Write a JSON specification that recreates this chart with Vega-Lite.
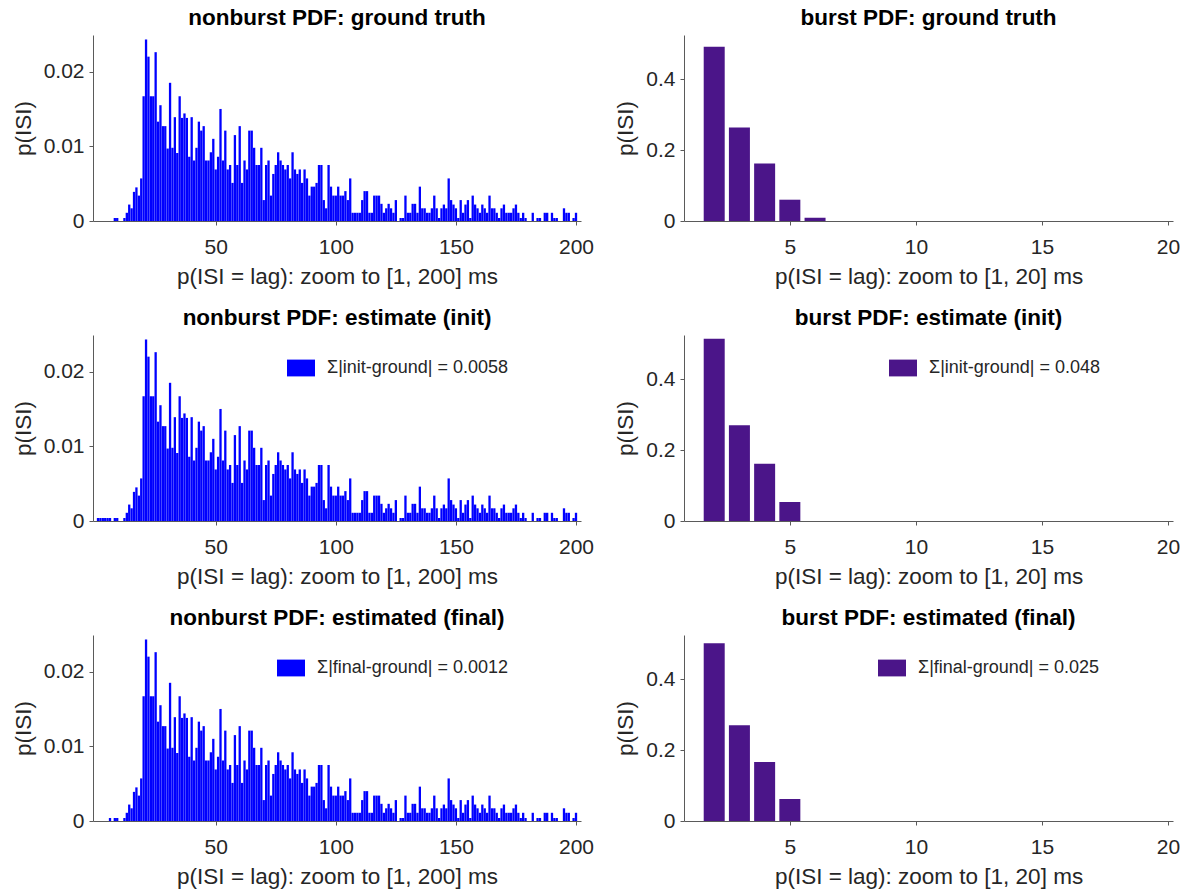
{
"$schema": "https://vega.github.io/schema/vega-lite/v6.json",
"background": "white",
"padding": {"left": 12, "top": 6, "right": 2, "bottom": 2},
"datasets": {
"nb": [
{"lag":1,"gt":0,"init":0.0004,"fin":0},{"lag":2,"gt":0,"init":0.0004,"fin":0},{"lag":3,"gt":0,"init":0.0004,"fin":0},{"lag":4,"gt":0,"init":0.0004,"fin":0},{"lag":5,"gt":0,"init":0.0004,"fin":0},{"lag":6,"gt":0,"init":0.0004,"fin":0.0004},{"lag":7,"gt":0,"init":0,"fin":0},{"lag":8,"gt":0.0004,"init":0.0004,"fin":0.0004},{"lag":9,"gt":0.0004,"init":0.0004,"fin":0.0004},{"lag":10,"gt":0,"init":0,"fin":0},
{"lag":11,"gt":0,"init":0,"fin":0},{"lag":12,"gt":0.0004,"init":0.0004,"fin":0.0004},{"lag":13,"gt":0.0011,"init":0.0011,"fin":0.0011},{"lag":14,"gt":0.0022,"init":0.0022,"fin":0.0022},{"lag":15,"gt":0.0017,"init":0.0017,"fin":0.0017},{"lag":16,"gt":0.0039,"init":0.0039,"fin":0.0039},{"lag":17,"gt":0.0045,"init":0.0045,"fin":0.0045},{"lag":18,"gt":0.0034,"init":0.0034,"fin":0.0034},{"lag":19,"gt":0.0057,"init":0.0057,"fin":0.0057},{"lag":20,"gt":0.0167,"init":0.0167,"fin":0.0167},
{"lag":21,"gt":0.0243,"init":0.0243,"fin":0.0243},{"lag":22,"gt":0.022,"init":0.022,"fin":0.022},{"lag":23,"gt":0.0167,"init":0.0167,"fin":0.0167},{"lag":24,"gt":0.0167,"init":0.0167,"fin":0.0167},{"lag":25,"gt":0.0226,"init":0.0226,"fin":0.0226},{"lag":26,"gt":0.0133,"init":0.0133,"fin":0.0133},{"lag":27,"gt":0.0155,"init":0.0155,"fin":0.0155},{"lag":28,"gt":0.0127,"init":0.0127,"fin":0.0127},{"lag":29,"gt":0.0127,"init":0.0127,"fin":0.0127},{"lag":30,"gt":0.0097,"init":0.0097,"fin":0.0097},
{"lag":31,"gt":0.0185,"init":0.0185,"fin":0.0185},{"lag":32,"gt":0.0098,"init":0.0098,"fin":0.0098},{"lag":33,"gt":0.0139,"init":0.0139,"fin":0.0139},{"lag":34,"gt":0.0091,"init":0.0091,"fin":0.0091},{"lag":35,"gt":0.0167,"init":0.0167,"fin":0.0167},{"lag":36,"gt":0.0138,"init":0.0138,"fin":0.0138},{"lag":37,"gt":0.0144,"init":0.0144,"fin":0.0144},{"lag":38,"gt":0.0138,"init":0.0138,"fin":0.0138},{"lag":39,"gt":0.0086,"init":0.0086,"fin":0.0086},{"lag":40,"gt":0.0139,"init":0.0139,"fin":0.0139},
{"lag":41,"gt":0.0081,"init":0.0081,"fin":0.0081},{"lag":42,"gt":0.0098,"init":0.0098,"fin":0.0098},{"lag":43,"gt":0.0133,"init":0.0133,"fin":0.0133},{"lag":44,"gt":0.0121,"init":0.0121,"fin":0.0121},{"lag":45,"gt":0.0127,"init":0.0127,"fin":0.0127},{"lag":46,"gt":0.0081,"init":0.0081,"fin":0.0081},{"lag":47,"gt":0.0081,"init":0.0081,"fin":0.0081},{"lag":48,"gt":0.0092,"init":0.0092,"fin":0.0092},{"lag":49,"gt":0.011,"init":0.011,"fin":0.011},{"lag":50,"gt":0.0069,"init":0.0069,"fin":0.0069},
{"lag":51,"gt":0.0086,"init":0.0086,"fin":0.0086},{"lag":52,"gt":0.015,"init":0.015,"fin":0.015},{"lag":53,"gt":0.0081,"init":0.0081,"fin":0.0081},{"lag":54,"gt":0.0121,"init":0.0121,"fin":0.0121},{"lag":55,"gt":0.0069,"init":0.0069,"fin":0.0069},{"lag":56,"gt":0.0075,"init":0.0075,"fin":0.0075},{"lag":57,"gt":0.0051,"init":0.0051,"fin":0.0051},{"lag":58,"gt":0.0115,"init":0.0115,"fin":0.0115},{"lag":59,"gt":0.0075,"init":0.0075,"fin":0.0075},{"lag":60,"gt":0.0127,"init":0.0127,"fin":0.0127},
{"lag":61,"gt":0.0051,"init":0.0051,"fin":0.0051},{"lag":62,"gt":0.0081,"init":0.0081,"fin":0.0081},{"lag":63,"gt":0.0069,"init":0.0069,"fin":0.0069},{"lag":64,"gt":0.0121,"init":0.0121,"fin":0.0121},{"lag":65,"gt":0.0121,"init":0.0121,"fin":0.0121},{"lag":66,"gt":0.0098,"init":0.0098,"fin":0.0098},{"lag":67,"gt":0.0075,"init":0.0075,"fin":0.0075},{"lag":68,"gt":0.0075,"init":0.0075,"fin":0.0075},{"lag":69,"gt":0.0098,"init":0.0098,"fin":0.0098},{"lag":70,"gt":0.0028,"init":0.0028,"fin":0.0028},
{"lag":71,"gt":0.0075,"init":0.0075,"fin":0.0075},{"lag":72,"gt":0.0081,"init":0.0081,"fin":0.0081},{"lag":73,"gt":0.0034,"init":0.0034,"fin":0.0034},{"lag":74,"gt":0.0063,"init":0.0063,"fin":0.0063},{"lag":75,"gt":0.0075,"init":0.0075,"fin":0.0075},{"lag":76,"gt":0.0092,"init":0.0092,"fin":0.0092},{"lag":77,"gt":0.0081,"init":0.0081,"fin":0.0081},{"lag":78,"gt":0.0075,"init":0.0075,"fin":0.0075},{"lag":79,"gt":0.0069,"init":0.0069,"fin":0.0069},{"lag":80,"gt":0.0075,"init":0.0075,"fin":0.0075},
{"lag":81,"gt":0.0057,"init":0.0057,"fin":0.0057},{"lag":82,"gt":0.0092,"init":0.0092,"fin":0.0092},{"lag":83,"gt":0.0069,"init":0.0069,"fin":0.0069},{"lag":84,"gt":0.0063,"init":0.0063,"fin":0.0063},{"lag":85,"gt":0.0069,"init":0.0069,"fin":0.0069},{"lag":86,"gt":0.0051,"init":0.0051,"fin":0.0051},{"lag":87,"gt":0.0069,"init":0.0069,"fin":0.0069},{"lag":88,"gt":0.0057,"init":0.0057,"fin":0.0057},{"lag":89,"gt":0.0034,"init":0.0034,"fin":0.0034},{"lag":90,"gt":0.0046,"init":0.0046,"fin":0.0046},
{"lag":91,"gt":0.0046,"init":0.0046,"fin":0.0046},{"lag":92,"gt":0.0051,"init":0.0051,"fin":0.0051},{"lag":93,"gt":0.0075,"init":0.0075,"fin":0.0075},{"lag":94,"gt":0.0075,"init":0.0075,"fin":0.0075},{"lag":95,"gt":0.0028,"init":0.0028,"fin":0.0028},{"lag":96,"gt":0.0017,"init":0.0017,"fin":0.0017},{"lag":97,"gt":0.0075,"init":0.0075,"fin":0.0075},{"lag":98,"gt":0.0046,"init":0.0046,"fin":0.0046},{"lag":99,"gt":0.0034,"init":0.0034,"fin":0.0034},{"lag":100,"gt":0.0034,"init":0.0034,"fin":0.0034},
{"lag":101,"gt":0.0046,"init":0.0046,"fin":0.0046},{"lag":102,"gt":0.0034,"init":0.0034,"fin":0.0034},{"lag":103,"gt":0.0034,"init":0.0034,"fin":0.0034},{"lag":104,"gt":0.004,"init":0.004,"fin":0.004},{"lag":105,"gt":0.0028,"init":0.0028,"fin":0.0028},{"lag":106,"gt":0.0057,"init":0.0057,"fin":0.0057},{"lag":107,"gt":0.0011,"init":0.0011,"fin":0.0011},{"lag":108,"gt":0.0011,"init":0.0011,"fin":0.0011},{"lag":109,"gt":0.0011,"init":0.0011,"fin":0.0011},{"lag":110,"gt":0.0011,"init":0.0011,"fin":0.0011},
{"lag":111,"gt":0.0028,"init":0.0028,"fin":0.0028},{"lag":112,"gt":0.004,"init":0.004,"fin":0.004},{"lag":113,"gt":0.004,"init":0.004,"fin":0.004},{"lag":114,"gt":0.0011,"init":0.0011,"fin":0.0011},{"lag":115,"gt":0.0011,"init":0.0011,"fin":0.0011},{"lag":116,"gt":0.0034,"init":0.0034,"fin":0.0034},{"lag":117,"gt":0.0034,"init":0.0034,"fin":0.0034},{"lag":118,"gt":0.0034,"init":0.0034,"fin":0.0034},{"lag":119,"gt":0.0023,"init":0.0023,"fin":0.0023},{"lag":120,"gt":0.0011,"init":0.0011,"fin":0.0011},
{"lag":121,"gt":0.0017,"init":0.0017,"fin":0.0017},{"lag":122,"gt":0.0023,"init":0.0023,"fin":0.0023},{"lag":123,"gt":0.0017,"init":0.0017,"fin":0.0017},{"lag":124,"gt":0.0011,"init":0.0011,"fin":0.0011},{"lag":125,"gt":0.0028,"init":0.0028,"fin":0.0028},{"lag":126,"gt":0,"init":0,"fin":0},{"lag":127,"gt":0.0004,"init":0.0004,"fin":0.0004},{"lag":128,"gt":0.0004,"init":0.0004,"fin":0.0004},{"lag":129,"gt":0.0034,"init":0.0034,"fin":0.0034},{"lag":130,"gt":0.0011,"init":0.0011,"fin":0.0011},
{"lag":131,"gt":0.0011,"init":0.0011,"fin":0.0011},{"lag":132,"gt":0.0023,"init":0.0023,"fin":0.0023},{"lag":133,"gt":0.0023,"init":0.0023,"fin":0.0023},{"lag":134,"gt":0.0011,"init":0.0011,"fin":0.0011},{"lag":135,"gt":0.0046,"init":0.0046,"fin":0.0046},{"lag":136,"gt":0.0017,"init":0.0017,"fin":0.0017},{"lag":137,"gt":0.0017,"init":0.0017,"fin":0.0017},{"lag":138,"gt":0.0011,"init":0.0011,"fin":0.0011},{"lag":139,"gt":0.0011,"init":0.0011,"fin":0.0011},{"lag":140,"gt":0.0017,"init":0.0017,"fin":0.0017},
{"lag":141,"gt":0.0034,"init":0.0034,"fin":0.0034},{"lag":142,"gt":0.0017,"init":0.0017,"fin":0.0017},{"lag":143,"gt":0.0004,"init":0.0004,"fin":0.0004},{"lag":144,"gt":0.0017,"init":0.0017,"fin":0.0017},{"lag":145,"gt":0.0022,"init":0.0022,"fin":0.0022},{"lag":146,"gt":0.0017,"init":0.0017,"fin":0.0017},{"lag":147,"gt":0.0057,"init":0.0057,"fin":0.0057},{"lag":148,"gt":0.0028,"init":0.0028,"fin":0.0028},{"lag":149,"gt":0.0022,"init":0.0022,"fin":0.0022},{"lag":150,"gt":0.0017,"init":0.0017,"fin":0.0017},
{"lag":151,"gt":0.0004,"init":0.0004,"fin":0.0004},{"lag":152,"gt":0.0028,"init":0.0028,"fin":0.0028},{"lag":153,"gt":0.0011,"init":0.0011,"fin":0.0011},{"lag":154,"gt":0.0022,"init":0.0022,"fin":0.0022},{"lag":155,"gt":0.0028,"init":0.0028,"fin":0.0028},{"lag":156,"gt":0.0004,"init":0.0004,"fin":0.0004},{"lag":157,"gt":0.0034,"init":0.0034,"fin":0.0034},{"lag":158,"gt":0.0022,"init":0.0022,"fin":0.0022},{"lag":159,"gt":0.0017,"init":0.0017,"fin":0.0017},{"lag":160,"gt":0.0011,"init":0.0011,"fin":0.0011},
{"lag":161,"gt":0.0022,"init":0.0022,"fin":0.0022},{"lag":162,"gt":0.0017,"init":0.0017,"fin":0.0017},{"lag":163,"gt":0.0011,"init":0.0011,"fin":0.0011},{"lag":164,"gt":0.0034,"init":0.0034,"fin":0.0034},{"lag":165,"gt":0.0017,"init":0.0017,"fin":0.0017},{"lag":166,"gt":0.0017,"init":0.0017,"fin":0.0017},{"lag":167,"gt":0.0011,"init":0.0011,"fin":0.0011},{"lag":168,"gt":0.0004,"init":0.0004,"fin":0.0004},{"lag":169,"gt":0.0017,"init":0.0017,"fin":0.0017},{"lag":170,"gt":0.0022,"init":0.0022,"fin":0.0022},
{"lag":171,"gt":0.0011,"init":0.0011,"fin":0.0011},{"lag":172,"gt":0.0011,"init":0.0011,"fin":0.0011},{"lag":173,"gt":0.0011,"init":0.0011,"fin":0.0011},{"lag":174,"gt":0.0017,"init":0.0017,"fin":0.0017},{"lag":175,"gt":0.0022,"init":0.0022,"fin":0.0022},{"lag":176,"gt":0.0011,"init":0.0011,"fin":0.0011},{"lag":177,"gt":0.0004,"init":0.0004,"fin":0.0004},{"lag":178,"gt":0.0011,"init":0.0011,"fin":0.0011},{"lag":179,"gt":0.0004,"init":0.0004,"fin":0.0004},{"lag":180,"gt":0,"init":0,"fin":0},
{"lag":181,"gt":0,"init":0,"fin":0},{"lag":182,"gt":0.0011,"init":0.0011,"fin":0.0011},{"lag":183,"gt":0,"init":0,"fin":0},{"lag":184,"gt":0.0004,"init":0.0004,"fin":0.0004},{"lag":185,"gt":0.0004,"init":0.0004,"fin":0.0004},{"lag":186,"gt":0,"init":0,"fin":0},{"lag":187,"gt":0.0011,"init":0.0011,"fin":0.0011},{"lag":188,"gt":0.0011,"init":0.0011,"fin":0.0011},{"lag":189,"gt":0,"init":0,"fin":0},{"lag":190,"gt":0.0011,"init":0.0011,"fin":0.0011},
{"lag":191,"gt":0.0004,"init":0.0004,"fin":0.0004},{"lag":192,"gt":0.0004,"init":0.0004,"fin":0.0004},{"lag":193,"gt":0,"init":0,"fin":0},{"lag":194,"gt":0,"init":0,"fin":0},{"lag":195,"gt":0.0017,"init":0.0017,"fin":0.0017},{"lag":196,"gt":0.0011,"init":0.0011,"fin":0.0011},{"lag":197,"gt":0.0011,"init":0.0011,"fin":0.0011},{"lag":198,"gt":0,"init":0,"fin":0},{"lag":199,"gt":0.0004,"init":0.0004,"fin":0.0004},{"lag":200,"gt":0.0011,"init":0.0011,"fin":0.0011}
],
"bu": [
{"lag":2,"gt":0.491,"init":0.5136,"fin":0.501},
{"lag":3,"gt":0.2635,"init":0.2695,"fin":0.27},
{"lag":4,"gt":0.162,"init":0.1615,"fin":0.166},
{"lag":5,"gt":0.06,"init":0.0535,"fin":0.062},
{"lag":6,"gt":0.0094,"init":0,"fin":0}
]
},
"config": {
"font": "Liberation Sans",
"view": {"stroke": null},
"axis": {"grid": false, "domainColor": "#5a5a5a", "tickColor": "#5a5a5a", "tickSize": 4, "labelColor": "#262626", "titleColor": "#262626", "labelFontSize": 21, "titleFontSize": 22.5, "titleFontWeight": "normal", "labelFont": "Liberation Sans", "titleFont": "Liberation Sans"},
"axisX": {"labelPadding": 11, "titlePadding": 8, "labelFlush": false},
"axisY": {"labelPadding": 5, "titlePadding": 8},
"title": {"fontSize": 22.5, "fontWeight": "bold", "font": "Liberation Sans", "color": "#000000", "anchor": "middle", "offset": 6},
"legend": {"orient": "none", "title": null, "symbolType": "M-1,-0.6H1V0.6H-1Z", "symbolSize": 784, "symbolStrokeWidth": 0, "labelFontSize": 18, "labelFont": "Liberation Sans", "labelColor": "#262626", "labelOffset": 12, "labelLimit": 0, "padding": 0}
},
"columns": 2,
"spacing": {"row": 114, "column": 103},
"bounds": "flush",
"resolve": {"scale": {"color": "independent", "x": "independent", "y": "independent"}, "legend": {"color": "independent"}},
"concat": [
{
"title": "nonburst PDF: ground truth",
"width": 488, "height": 186,
"data": {"name": "nb"},
"mark": {"type": "bar", "size": 2.3, "color": "#0000ff", "clip": true},
"encoding": {
"x": {"field": "lag", "type": "quantitative", "scale": {"domain": [1, 200], "nice": false, "zero": false}, "axis": {"values": [50, 100, 150, 200], "title": "p(ISI = lag): zoom to [1, 200] ms"}},
"y": {"field": "gt", "type": "quantitative", "scale": {"domain": [0, 0.0249], "nice": false}, "axis": {"values": [0, 0.01, 0.02], "format": "~g", "title": "p(ISI)"}}
}
},
{
"title": "burst PDF: ground truth",
"width": 489, "height": 186,
"data": {"name": "bu"},
"mark": {"type": "bar", "size": 21, "color": "#4B1589", "clip": true},
"encoding": {
"x": {"field": "lag", "type": "quantitative", "scale": {"domain": [1, 20], "nice": false, "zero": false}, "axis": {"values": [5, 10, 15, 20], "title": "p(ISI = lag): zoom to [1, 20] ms"}},
"y": {"field": "gt", "type": "quantitative", "scale": {"domain": [0, 0.524], "nice": false}, "axis": {"values": [0, 0.2, 0.4], "format": "~g", "title": "p(ISI)"}}
}
},
{
"title": "nonburst PDF: estimate (init)",
"width": 488, "height": 186,
"data": {"name": "nb"},
"mark": {"type": "bar", "size": 2.3, "clip": true},
"encoding": {
"x": {"field": "lag", "type": "quantitative", "scale": {"domain": [1, 200], "nice": false, "zero": false}, "axis": {"values": [50, 100, 150, 200], "title": "p(ISI = lag): zoom to [1, 200] ms"}},
"y": {"field": "init", "type": "quantitative", "scale": {"domain": [0, 0.0249], "nice": false}, "axis": {"values": [0, 0.01, 0.02], "format": "~g", "title": "p(ISI)"}},
"color": {"datum": "Σ|init-ground| = 0.0058", "type": "nominal", "scale": {"range": ["#0000ff"]}, "legend": {"legendX": 194, "legendY": 19}}
}
},
{
"title": "burst PDF: estimate (init)",
"width": 489, "height": 186,
"data": {"name": "bu"},
"mark": {"type": "bar", "size": 21, "clip": true},
"encoding": {
"x": {"field": "lag", "type": "quantitative", "scale": {"domain": [1, 20], "nice": false, "zero": false}, "axis": {"values": [5, 10, 15, 20], "title": "p(ISI = lag): zoom to [1, 20] ms"}},
"y": {"field": "init", "type": "quantitative", "scale": {"domain": [0, 0.524], "nice": false}, "axis": {"values": [0, 0.2, 0.4], "format": "~g", "title": "p(ISI)"}},
"color": {"datum": "Σ|init-ground| = 0.048", "type": "nominal", "scale": {"range": ["#4B1589"]}, "legend": {"legendX": 205, "legendY": 19}}
}
},
{
"title": "nonburst PDF: estimated (final)",
"width": 488, "height": 186,
"data": {"name": "nb"},
"mark": {"type": "bar", "size": 2.3, "clip": true},
"encoding": {
"x": {"field": "lag", "type": "quantitative", "scale": {"domain": [1, 200], "nice": false, "zero": false}, "axis": {"values": [50, 100, 150, 200], "title": "p(ISI = lag): zoom to [1, 200] ms"}},
"y": {"field": "fin", "type": "quantitative", "scale": {"domain": [0, 0.0249], "nice": false}, "axis": {"values": [0, 0.01, 0.02], "format": "~g", "title": "p(ISI)"}},
"color": {"datum": "Σ|final-ground| = 0.0012", "type": "nominal", "scale": {"range": ["#0000ff"]}, "legend": {"legendX": 184, "legendY": 19}}
}
},
{
"title": "burst PDF: estimated (final)",
"width": 489, "height": 186,
"data": {"name": "bu"},
"mark": {"type": "bar", "size": 21, "clip": true},
"encoding": {
"x": {"field": "lag", "type": "quantitative", "scale": {"domain": [1, 20], "nice": false, "zero": false}, "axis": {"values": [5, 10, 15, 20], "title": "p(ISI = lag): zoom to [1, 20] ms"}},
"y": {"field": "fin", "type": "quantitative", "scale": {"domain": [0, 0.524], "nice": false}, "axis": {"values": [0, 0.2, 0.4], "format": "~g", "title": "p(ISI)"}},
"color": {"datum": "Σ|final-ground| = 0.025", "type": "nominal", "scale": {"range": ["#4B1589"]}, "legend": {"legendX": 194, "legendY": 19}}
}
}
]
}
